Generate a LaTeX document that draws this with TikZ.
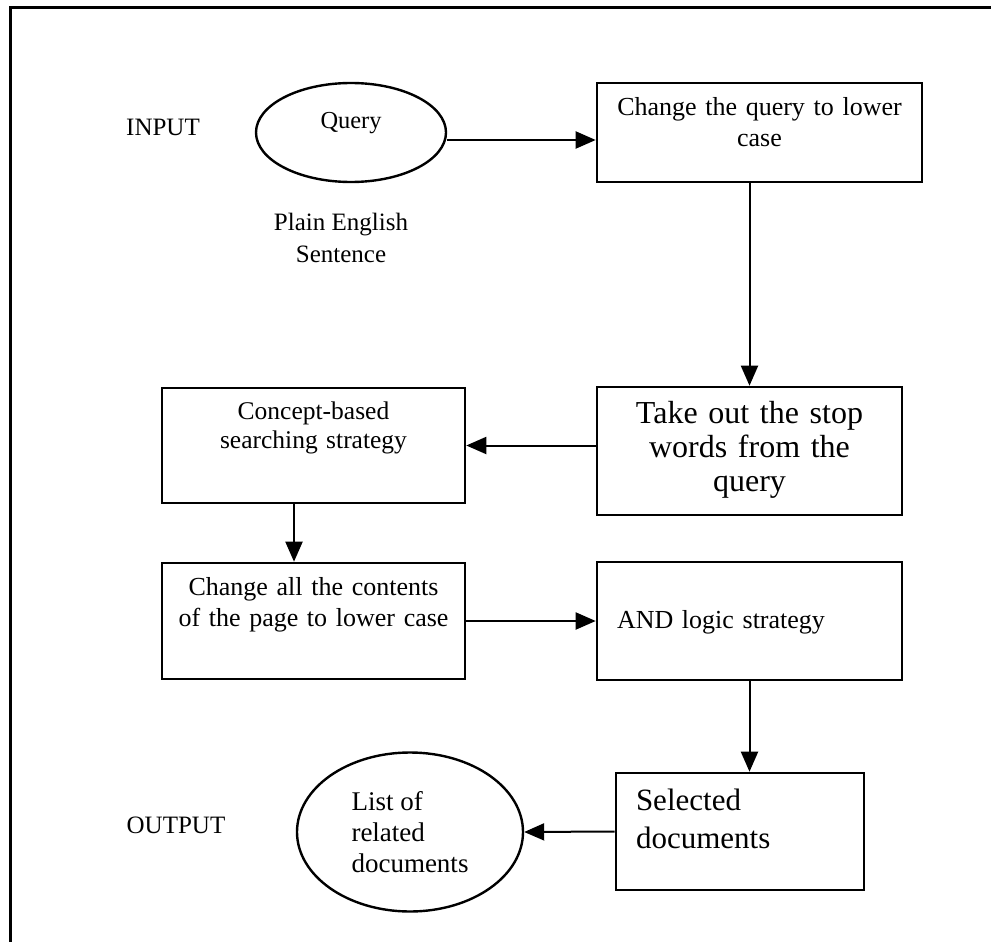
\documentclass[tikz,border=0pt]{standalone}
\usepackage{fontspec}
\setmainfont{Liberation Serif}
\usetikzlibrary{shapes,arrows.meta,positioning}

\begin{document}
\begin{tikzpicture}[
    x=1pt, y=-1pt,
    every node/.style={font=\fontsize{25}{32}\selectfont},
    process/.style={rectangle, draw=black, line width=2.6pt, inner xsep=10pt, inner ysep=0pt, align=center},
    bigtext/.style={font=\fontsize{32}{34}\selectfont},
    terminal/.style={ellipse, draw=black, line width=2.4pt, inner sep=0pt},
    flow/.style={-{Triangle[length=20pt,width=17pt]}, line width=2pt},
    tag/.style={inner sep=0pt, text centered}
]
\useasboundingbox (0,0) rectangle (991,942);

% frame
\draw [line width=3pt] (10,942) -- (10,8) -- (991,8);

% input side
\node [tag, anchor=base] (input) at (163,135) {INPUT};
\node [terminal, minimum width=190pt, minimum height=99pt, text depth=25pt, font=\fontsize{24.4}{30}\selectfont] (query) at (351,132.5) {Query};
\node [tag, anchor=base, align=center] (plain) at (341,262) {Plain English\\Sentence};

% processing boxes
\node [process, text width=305pt, text height=32pt, text depth=67pt, font=\fontsize{26}{32}\selectfont] (lower) at (759.5,132.5) {Change the query to lower\\case};
\node [process, bigtext, text width=285pt, text height=36pt, text depth=92pt] (stopwords) at (749.5,451) {Take out the stop\\words from the\\query};
\node [process, text width=283pt, text height=31pt, text depth=84pt, font=\fontsize{25.5}{29}\selectfont] (concept) at (313.5,445.5) {Concept-based\\searching strategy};
\node [process, text width=283pt, text height=32pt, text depth=84pt, font=\fontsize{26}{31}\selectfont] (pagelower) at (313.5,621) {Change all the contents\\of the page to lower case};
\node [process, align=left, inner xsep=20pt, text width=265pt, text height=66pt, text depth=52pt, font=\fontsize{26}{31}\selectfont] (andlogic) at (749.5,621) {AND logic strategy};
\node [process, bigtext, align=left, inner xsep=20pt, text width=208pt, text height=37pt, text depth=80pt, font=\fontsize{31}{38}\selectfont] (selected) at (740,831.5) {Selected\\documents};

% output side
\node [terminal, minimum width=226pt, minimum height=159pt, align=left, font=\fontsize{27}{31}\selectfont] (related) at (410,832) {List of\\related\\documents};
\node [tag, anchor=base] (output) at (176,833) {OUTPUT};

% connectors
\draw [flow] ([yshift=-7.5pt]query.east) -- ([yshift=-7.5pt]lower.west);
\draw [flow] (lower.south -| stopwords.north) -- (stopwords.north);
\draw [flow] (stopwords.west |- concept.east) -- (concept.east);
\draw [flow] ([xshift=-19.5pt]concept.south) -- ([xshift=-19.5pt]pagelower.north);
\draw [flow] (pagelower.east) -- (andlogic.west);
\draw [flow] (andlogic.south) -- (andlogic.south |- selected.north);
\draw [flow] (selected.west) -- (related.east);

\end{tikzpicture}
\end{document}
